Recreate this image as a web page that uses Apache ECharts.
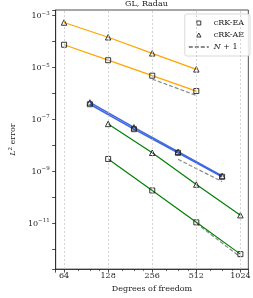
<!DOCTYPE html>
<html><head><meta charset="utf-8">
<script src="https://cdn.jsdelivr.net/npm/echarts@6/dist/echarts.min.js"></script>
<style>html,body{margin:0;padding:0;background:#fff}#c{width:253px;height:298px}</style>
</head><body><div id="c"></div>
<script>
// ---- data ----
const dofOrange = [64, 128, 256, 512];
const dofBlue = [96, 192, 384, 768];
const dofGreen = [128, 256, 512, 1024];
const orangeEA = [7.57e-5, 1.92e-5, 4.89e-6, 1.25e-6];
const orangeAE = [5.43e-4, 1.47e-4, 3.54e-5, 8.55e-6];
const blueEA = [3.89e-7, 4.27e-8, 5.25e-9, 6.31e-10];
const blueAE = [4.57e-7, 5.01e-8, 5.75e-9, 6.76e-10];
const greenEA = [3.05e-9, 1.87e-10, 1.11e-11, 6.64e-13];
const greenAE = [6.81e-8, 5.28e-9, 3.16e-10, 2.09e-11];
const refOrangeX = [256, 512];
const refOrange = [3.6e-6, 8.5e-7];
const refBlueX = [384, 768];
const refBlue = [2.95e-9, 4.11e-10];
const refGreenX = [512, 1024];
const refGreen = [1.02e-11, 5.13e-13];
const xTicks = [64, 128, 256, 512, 1024];
const yTicks = [1e-11, 1e-9, 1e-7, 1e-5, 1e-3];
const legendNames = ['cRK-EA', 'cRK-AE', 'N + 1'];
const titleText = 'GL, Radau';

const FONT = 'DejaVu Serif';
const zip = (xs, ys) => xs.map((x, i) => [x, ys[i]]);
const markerStyle = {color: 'rgba(0,0,0,0)', borderColor: '#222', borderWidth: 0.9};
const SQUARE = 'path://M0,0H10V10H0Z';
const TRIANGLE = 'path://M5,0L10,9L0,9Z';

function dataSeries(name, xs, ys, color, symbol, width) {
  return {
    name: name, type: 'line', data: zip(xs, ys), z: 3,
    symbol: symbol, symbolSize: symbol === 'triangle' ? 5.5 : 5, showSymbol: true,
    lineStyle: {color: color, width: width}, itemStyle: markerStyle,
    emphasis: {disabled: true}, silent: true, animation: false
  };
}
function refSeries(xs, ys) {
  return {
    name: 'ref', type: 'line', data: zip(xs, ys), z: 2, symbol: 'none',
    lineStyle: {color: '#8a8a8a', width: 1.2, type: [4, 2]}, silent: true, animation: false
  };
}

const series = [
  {
    name: 'grid', type: 'line', data: [], z: 0, silent: true, animation: false,
    markLine: {
      silent: true, symbol: 'none', label: {show: false}, animation: false,
      lineStyle: {color: '#c8c8c8', width: 0.8, type: [2, 2]},
      data: yTicks.map(v => ({yAxis: v})).concat(xTicks.map(v => ({xAxis: v})))
    }
  },
  dataSeries('o-ea', dofOrange, orangeEA, '#FFA500', 'rect', 1.3),
  dataSeries('o-ae', dofOrange, orangeAE, '#FFA500', 'triangle', 1.3),
  dataSeries('b-ea', dofBlue, blueEA, '#4169E1', 'rect', 1.6),
  dataSeries('b-ae', dofBlue, blueAE, '#4169E1', 'triangle', 1.6),
  dataSeries('g-ea', dofGreen, greenEA, '#008000', 'rect', 1.2),
  dataSeries('g-ae', dofGreen, greenAE, '#008000', 'triangle', 1.2),
  refSeries(refOrangeX, refOrange),
  refSeries(refBlueX, refBlue),
  refSeries(refGreenX, refGreen),
  {name: legendNames[0], type: 'line', data: []},
  {name: legendNames[1], type: 'line', data: []},
  {name: legendNames[2], type: 'line', data: [], symbol: 'none',
   itemStyle: {color: 'rgba(0,0,0,0)', borderWidth: 0, opacity: 0},
   lineStyle: {color: '#8a8a8a', width: 1.2, type: [4, 2]}}
];

const isTick = (arr, v, log) => arr.some(t => Math.abs(log(t) - log(v)) < 1e-6);
const legendMarker = {color: '#fff', borderColor: '#222', borderWidth: 0.9};

const chart = echarts.init(document.getElementById('c'), null, {renderer: 'canvas'});
chart.setOption({
  animation: false,
  backgroundColor: '#fff',
  textStyle: {fontFamily: FONT},
  graphic: [{
    type: 'text', x: 146.5, y: 0, silent: true,
    style: {text: titleText, fontFamily: FONT, fontSize: 8, fill: '#222', textAlign: 'center', textVerticalAlign: 'top'}
  }],
  grid: {left: 41.5, right: 1.5, top: 10, bottom: 25, show: true, borderColor: '#222', borderWidth: 0.8, backgroundColor: '#fff'},
  legend: {
    orient: 'vertical', right: 3, top: 14,
    data: [
      {name: legendNames[0], icon: SQUARE, itemStyle: legendMarker},
      {name: legendNames[1], icon: TRIANGLE, itemStyle: legendMarker},
      {name: legendNames[2]}
    ],
    itemWidth: 20, itemHeight: 4, itemGap: 2,
    padding: [4, 6, 4, 3],
    backgroundColor: 'rgba(255,255,255,0.85)', borderColor: '#cfcfcf', borderWidth: 0.8, borderRadius: 2,
    textStyle: {fontFamily: FONT, fontSize: 8, color: '#222', lineHeight: 10, rich: {i: {fontStyle: 'italic', fontFamily: FONT, fontSize: 8}}},
    formatter: n => n === 'N + 1' ? '{i|N} + 1' : n,
    selectedMode: false
  },
  xAxis: {
    type: 'log', logBase: 2, min: 56.1, max: 1160,
    axisLine: {show: true, lineStyle: {color: '#222', width: 0.8}},
    axisTick: {show: true, length: 3.5, lineStyle: {color: '#222', width: 0.8}},
    minorTick: {show: true, splitNumber: 4, length: 2, lineStyle: {color: '#222', width: 0.6}},
    splitLine: {show: false},
    axisLabel: {
      margin: 3, fontSize: 8, color: '#222', fontFamily: FONT,
      showMinLabel: true, showMaxLabel: true,
      formatter: v => isTick(xTicks, v, Math.log2) ? String(Math.round(v)) : ''
    },
    name: 'Degrees of freedom', nameLocation: 'middle', nameGap: 15,
    nameTextStyle: {fontSize: 8, color: '#222', fontFamily: FONT}
  },
  yAxis: {
    type: 'log', logBase: 10, min: 1.762e-13, max: 1.644e-3,
    axisLine: {show: true, lineStyle: {color: '#222', width: 0.8}},
    axisTick: {show: true, length: 3.5, lineStyle: {color: '#222', width: 0.8}},
    splitLine: {show: false},
    axisLabel: {
      margin: 6, fontSize: 8, color: '#222', fontFamily: FONT,
      formatter: v => isTick(yTicks, v, Math.log10) ? '10{s|\u2212' + Math.round(-Math.log10(v)) + '}' : '',
      rich: {s: {fontSize: 5.5, fontFamily: FONT, color: '#222', verticalAlign: 'bottom', padding: [0, 0, 5, 0]}}
    },
    name: '{i|L}{s|2} error', nameLocation: 'middle', nameGap: 27, nameRotate: 90,
    nameTextStyle: {fontSize: 8, color: '#222', fontFamily: FONT,
      rich: {i: {fontStyle: 'italic', fontSize: 8, fontFamily: FONT}, s: {fontSize: 5.5, fontFamily: FONT, verticalAlign: 'bottom', padding: [0, 0, 4, 0]}}}
  },
  series: series
});
</script></body></html>
